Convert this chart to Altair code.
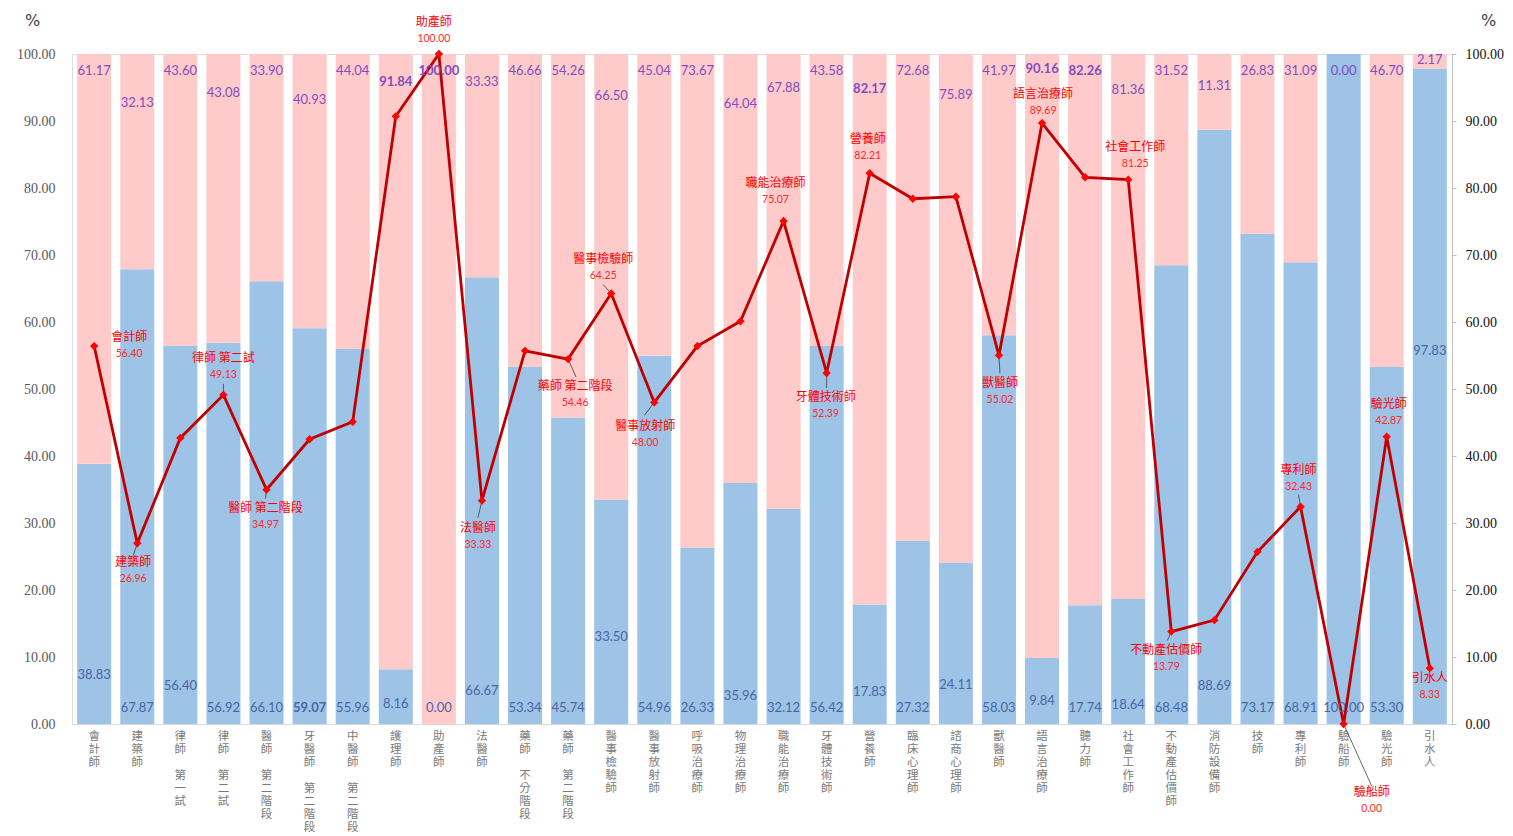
import altair as alt
import pandas as pd

# ---------------- data ----------------
cats = ["會計師", "建築師", "律師 第一試", "律師 第二試", "醫師 第二階段", "牙醫師 第二階段",
        "中醫師 第二階段", "護理師", "助產師", "法醫師", "藥師 不分階段", "藥師 第二階段",
        "醫事檢驗師", "醫事放射師", "呼吸治療師", "物理治療師", "職能治療師", "牙體技術師",
        "營養師", "臨床心理師", "諮商心理師", "獸醫師", "語言治療師", "聽力師", "社會工作師",
        "不動產估價師", "消防設備師", "技師", "專利師", "驗船師", "驗光師", "引水人"]

blue_vals = [38.83, 67.87, 56.40, 56.92, 66.10, 59.07, 55.96, 8.16, 0.00, 66.67, 53.34, 45.74,
             33.50, 54.96, 26.33, 35.96, 32.12, 56.42, 17.83, 27.32, 24.11, 58.03, 9.84, 17.74,
             18.64, 68.48, 88.69, 73.17, 68.91, 100.00, 53.30, 97.83]

pink_vals = [61.17, 32.13, 43.60, 43.08, 33.90, 40.93, 44.04, 91.84, 100.00, 33.33, 46.66, 54.26,
             66.50, 45.04, 73.67, 64.04, 67.88, 43.58, 82.17, 72.68, 75.89, 41.97, 90.16, 82.26,
             81.36, 31.52, 11.31, 26.83, 31.09, 0.00, 46.70, 2.17]

line_vals = [56.40, 26.96, 42.7, 49.13, 34.97, 42.5, 45.1, 90.7, 100.00, 33.33, 55.7, 54.46,
             64.25, 48.00, 56.4, 60.1, 75.07, 52.39, 82.21, 78.4, 78.7, 55.02, 89.69, 81.6,
             81.25, 13.79, 15.5, 25.7, 32.43, 0.00, 42.87, 8.33]

# label placement (value-axis units) for the bar-segment labels
pink_label_y = [97.5, 92.7, 97.5, 94.2, 97.5, 93.1, 97.5, 95.8, 97.5, 95.8, 97.5, 97.5,
                93.8, 97.5, 97.5, 92.5, 94.9, 97.5, 94.8, 97.5, 93.9, 97.5, 97.8, 97.5,
                94.6, 97.5, 95.2, 97.5, 97.5, 97.5, 97.5, 99.1]
blue_label_y = [7.3, 2.4, 5.7, 2.4, 2.4, 2.4, 2.4, 3.0, 2.4, 4.9, 2.4, 2.4,
                13.0, 2.4, 2.4, 4.2, 2.4, 2.4, 4.8, 2.4, 5.8, 2.4, 3.4, 2.4,
                2.8, 2.4, 5.7, 2.4, 2.4, 2.4, 2.4, 55.7]
pink_bold = [7, 8, 18, 22, 23]
blue_bold = [5]

# labelled points on the line: index, pixel offset of the name label
lab_idx = [0, 1, 3, 4, 8, 9, 11, 12, 13, 16, 17, 18, 21, 22, 24, 25, 28, 29, 30, 31]
lab_dx = [35, -4, 0, -1, -5, -4, 7, -8, -9, -8, -1, -2, 1, 1, 7, -5, -2, 28, 2, 0]
lab_dy = [-9, 19, -37, 18, -32, 27, 27, -35, 24, -38, 24, -34, 28, -29, -33, 18, -37, 68, -33, 10]

# leader lines: index, end offset in pixels
lead_idx = [1, 3, 4, 9, 11, 12, 13, 17, 21, 25, 28, 29]
lead_dx = [-4, 0, -1, -4, 8, -8, -10, 0, 1, -4, -2, 28]
lead_dy = [12, -11, 9, 17, 18, -9, 13, 15, 18, 9, -12, 62]

# ---------------- styles ----------------
BLUE = "#9DC3E6"
PINK = "#FFCACA"
LINE = "#C00000"
MARK = "#FF0000"
CJK = "Noto Sans CJK TC"
NUMF = "Lato"
SERIF = "Liberation Serif"

df = pd.DataFrame({
    "idx": list(range(len(cats))),
    "cat": cats,
    "blue": blue_vals,
    "pink": pink_vals,
    "rate": line_vals,
    "pink_y": pink_label_y,
    "blue_y": blue_label_y,
})
df["top"] = df["blue"] + df["pink"]
df["pb"] = df["idx"].isin(pink_bold)
df["bb"] = df["idx"].isin(blue_bold)

base = alt.Chart(df)

# each character on its own line; the space becomes a blank (braille-blank) line
X = alt.X(
    "cat:N", sort=cats, title=None,
    scale=alt.Scale(paddingInner=0.21, paddingOuter=0.12),
    axis=alt.Axis(labelAngle=0,
                  labelExpr="split(replace(datum.value, ' ', '\u2800'), '')",
                  labelFont=CJK, labelFontSize=11.5, labelColor="#7A7A7A",
                  labelLineHeight=13, labelBaseline="top", labelPadding=6, ticks=False,
                  domainColor="#D9D9D9", labelOverlap=False, labelLimit=300),
)
YS = alt.Scale(domain=[0, 100], nice=False, zero=True)
tick_vals = [0, 10, 20, 30, 40, 50, 60, 70, 80, 90, 100]

left_axis = alt.Axis(orient="left", values=tick_vals, format=".2f", domain=False, ticks=False,
                     grid=False, labelColor="#595959", labelFont=SERIF, labelFontSize=14,
                     labelPadding=17, title="%", titleAngle=0, titleX=-40, titleY=-34,
                     titleAlign="center", titleBaseline="middle", titleFontSize=16,
                     titleFontWeight="normal", titleColor="#404040", titleFont="DejaVu Sans")
right_axis = alt.Axis(orient="right", values=tick_vals, format=".2f", domain=True,
                      domainColor="#BFBFBF", ticks=True, tickColor="#BFBFBF", tickSize=4,
                      grid=False, labelColor="#111111", labelFont=SERIF, labelFontSize=14,
                      labelPadding=9, title="%", titleAngle=0, titleX=36, titleY=-34,
                      titleAlign="center", titleBaseline="middle", titleFontSize=16,
                      titleFontWeight="normal", titleColor="#404040", titleFont="DejaVu Sans")

blue_bar = base.mark_bar(color=BLUE).encode(
    x=X, y=alt.Y("blue:Q", scale=YS, axis=left_axis))
pink_bar = base.mark_bar(color=PINK).encode(
    x=X, y=alt.Y("blue:Q", scale=YS, axis=None), y2="top:Q")

line = base.mark_line(color=LINE, strokeWidth=2.8).encode(
    x=X, y=alt.Y("rate:Q", scale=YS, axis=right_axis))
points = base.mark_point(shape="diamond", filled=True, color=MARK, size=70, opacity=1).encode(
    x=X, y=alt.Y("rate:Q", scale=YS, axis=None))

layers = [blue_bar, pink_bar]

# leader lines
for i, dx, dy in zip(lead_idx, lead_dx, lead_dy):
    layers.append(
        base.transform_filter(alt.datum.idx == i).mark_rule(
            color="#404040", strokeWidth=0.8, x2Offset=dx, y2Offset=dy
        ).encode(x=X, x2="cat:N", y=alt.Y("rate:Q", scale=YS, axis=None), y2="rate:Q")
    )

layers += [line, points]

# bar segment labels
for bold_flag, weight in [(False, "normal"), (True, "bold")]:
    layers.append(
        base.transform_filter(alt.datum.pb == bold_flag).mark_text(
            font=NUMF, fontSize=13, color="#7F4FBF", fontWeight=weight, baseline="middle"
        ).encode(x=X, y=alt.Y("pink_y:Q", scale=YS, axis=None),
                 text=alt.Text("pink:Q", format=".2f"))
    )
    layers.append(
        base.transform_filter(alt.datum.bb == bold_flag).mark_text(
            font=NUMF, fontSize=13, color="#4A66A6", fontWeight=weight, baseline="middle"
        ).encode(x=X, y=alt.Y("blue_y:Q", scale=YS, axis=None),
                 text=alt.Text("blue:Q", format=".2f"))
    )

# line point labels
for i, dx, dy in zip(lab_idx, lab_dx, lab_dy):
    sub = base.transform_filter(alt.datum.idx == i)
    layers.append(
        sub.mark_text(font=CJK, fontSize=12, color="#FF0000", dx=dx, dy=dy, baseline="middle").encode(
            x=X, y=alt.Y("rate:Q", scale=YS, axis=None), text="cat:N")
    )
    layers.append(
        sub.mark_text(font=NUMF, fontSize=10.5, color="#FF2A2A", dx=dx, dy=dy + 17,
                      baseline="middle").encode(
            x=X, y=alt.Y("rate:Q", scale=YS, axis=None), text=alt.Text("rate:Q", format=".2f"))
    )

chart = alt.layer(*layers).resolve_scale(y="shared").resolve_axis(y="independent").properties(
    width=1380, height=670,
    autosize=alt.AutoSizeParams(type="none"),
    padding={"left": 64, "top": 46, "right": 53, "bottom": 112},
).configure_view(stroke=None).configure(background="white")

chart.save("out.html", embed_options={"renderer": "svg", "actions": False})
